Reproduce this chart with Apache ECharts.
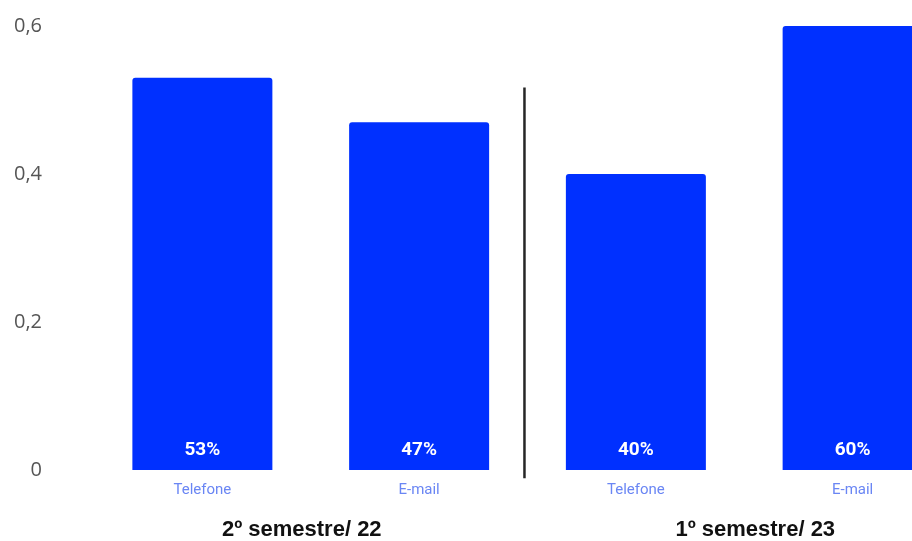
<!DOCTYPE html>
<html>
<head>
<meta charset="utf-8">
<script src="https://cdn.jsdelivr.net/npm/echarts@6/dist/echarts.min.js"></script>
<style>
  html, body { margin: 0; padding: 0; background: #fff; }
  #chart { width: 912px; height: 541px; }
</style>
</head>
<body>
<div id="chart"></div>
<script>
// Contact channel share per semester
const channels = ['Telefone', 'E-mail', 'Telefone', 'E-mail'];
const periods = ['2º semestre/ 22', '1º semestre/ 23'];
const shares = [0.53, 0.47, 0.40, 0.60];
const yTicks = [0, 0.2, 0.4, 0.6];
// vertical separator between the two semesters (x in band units, y in share units)
const separatorX = 1.986;
const separatorY = [0.517, -0.011];

const periodStyle = {
  color: '#111',
  fontSize: 22,
  fontWeight: 'bold',
  fontFamily: 'Liberation Sans'
};

const chart = echarts.init(document.getElementById('chart'));
chart.setOption({
  animation: false,
  grid: { left: 94, top: 26, bottom: 71, width: 867, outerBoundsMode: 'none', containLabel: false },
  xAxis: [
    {
      type: 'category',
      data: channels,
      axisLine: { show: false },
      axisTick: { show: false },
      axisLabel: {
        margin: 13,
        color: '#6a86f4',
        fontSize: 15,
        fontFamily: 'Roboto'
      }
    },
    {
      type: 'category',
      data: periods,
      position: 'bottom',
      axisLine: { show: false },
      axisTick: { show: false },
      axisLabel: {
        margin: 49,
        formatter: (v, i) => (i === 0 ? '{a|' : '{b|') + v + '}',
        rich: {
          a: Object.assign({ padding: [0, 18, 0, 0] }, periodStyle),
          b: Object.assign({ padding: [0, 0, 0, 22] }, periodStyle)
        }
      }
    },
    {
      type: 'value',
      min: 0,
      max: channels.length,
      show: false
    }
  ],
  yAxis: {
    type: 'value',
    min: 0,
    max: yTicks[yTicks.length - 1],
    interval: 0.2,
    splitLine: { show: false },
    axisLine: { show: false },
    axisTick: { show: false },
    axisLabel: {
      margin: 52,
      color: '#555',
      fontSize: 20,
      fontFamily: 'Open Sans',
      formatter: v => String(+v.toFixed(1)).replace('.', ',')
    }
  },
  series: [
    {
      type: 'bar',
      data: shares,
      xAxisIndex: 0,
      barWidth: 140,
      itemStyle: { color: '#0030ff', borderRadius: [3, 3, 0, 0] },
      label: {
        show: true,
        position: 'insideBottom',
        distance: 10,
        color: '#fff',
        fontSize: 19,
        fontWeight: 'bold',
        fontFamily: 'Roboto',
        formatter: p => Math.round(p.value * 100) + '%'
      }
    },
    {
      type: 'line',
      xAxisIndex: 2,
      clip: false,
      symbol: 'none',
      silent: true,
      data: separatorY.map(y => [separatorX, y]),
      lineStyle: { color: '#262626', width: 2.5 }
    }
  ]
});
</script>
</body>
</html>
